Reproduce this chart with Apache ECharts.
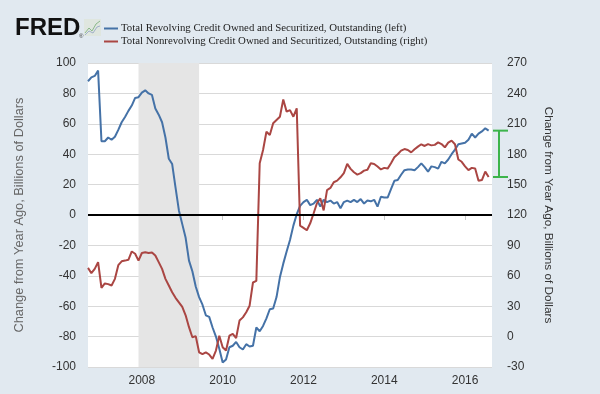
<!DOCTYPE html>
<html>
<head>
<meta charset="utf-8">
<script src="https://cdn.jsdelivr.net/npm/echarts@6/dist/echarts.min.js"></script>
<style>
html,body{margin:0;padding:0;background:#e1e9f0;}
#c{width:600px;height:394px;}
</style>
</head>
<body>
<div id="c"></div>
<script>
// ---- data (monthly, starting Sep 2006) ----
const startMonth = '2006-09';
const monthCount = 121; // Sep 2006 .. Sep 2016 (axis range)
const tickLabels = ['2008', '2010', '2012', '2014', '2016'];
const recession = ['2007-12', '2009-06'];

const seriesNames = [
  'Total Revolving Credit Owned and Securitized, Outstanding (left)',
  'Total Nonrevolving Credit Owned and Securitized, Outstanding (right)'
];

// Change from year ago, billions of dollars (left axis)
const revolving = [
  88, 90.5, 91.5, 95, 48.5, 48.5, 51, 49.5, 51.5, 56,
  61, 64.5, 68.5, 72, 77, 77.5, 80.5, 82, 80, 79,
  70, 66, 61, 51, 37, 33.5, 18, 3, -6, -15,
  -30, -37, -47, -54, -59, -66, -67, -74, -80, -88,
  -97, -95, -87, -86, -83.5, -87, -88.5, -85, -86.5, -86,
  -74, -76.5, -73, -68, -62, -61.5, -54, -41, -32, -24,
  -16.5, -7, 0.5, 6, 8.5, 10, 6.5, 7.5, 10, 5.5,
  10, 8.5, 9.5, 7.5, 8.5, 4.5, 8.5, 9.5, 8.5, 10,
  8.5, 10.5, 7.5, 9.5, 9, 10, 5.5, 12, 11.5, 11.5,
  17, 22.5, 23, 26.5, 29.5, 30, 30, 29.5, 31.5, 34,
  31.5, 28.5, 32, 31.5, 30.5, 35, 34, 36.5, 40, 43,
  46.5, 47, 47.5, 49.5, 53.5, 51, 53.5, 55, 57, 55.5
];

// Change from year ago, billions of dollars (right axis)
const nonrevolving = [
  67.8, 62.6, 66.8, 73.5, 48, 52.5, 51.8, 50.4, 57, 70.5,
  74.3, 75, 75.8, 84, 81.8, 75, 82.5, 83.3, 82.5, 83,
  80, 73.5, 66.8, 57, 50.4, 43.8, 38.3, 33.8, 29.3, 21,
  9.3, -0.6, 0.5, -15.5, -17.4, -15.5, -17.7, -21.9, -13.8, 0.9,
  -10.5, -13.8, 0.9, 2.6, -1.4, 15.8, 19, 24, 30.5, 53.4,
  55, 171, 184.2, 202.2, 198.9, 210.5, 213.8, 217, 234, 222,
  223.5, 217, 225.3, 109.5, 107.3, 105, 111.8, 121.5, 131.6, 136.5,
  124.5, 144.6, 146.7, 152.3, 153.9, 157.2, 161.3, 170.4, 165.5, 162.2,
  159.9, 161.3, 163.8, 164.6, 171, 170.4, 167.9, 165, 166.5, 165.8,
  171, 177, 180, 183.5, 185.1, 184.2, 181.8, 184.8, 187.5, 189.8,
  188.1, 190, 188.7, 189.2, 191.7, 190, 186.8, 191.4, 193.4, 189.8,
  174.8, 172.5, 168, 164.3, 166.5, 165.8, 153.8, 154.5, 162.8, 157.5
];

// ---- month categories ----
const months = [];
{
  let y = +startMonth.slice(0, 4), m = +startMonth.slice(5, 7);
  for (let i = 0; i < monthCount; i++) {
    months.push(y + '-' + String(m).padStart(2, '0'));
    m++; if (m > 12) { m = 1; y++; }
  }
}
const isTick = (v) => tickLabels.some(t => v === t + '-01');

const BLUE = '#4572a7', RED = '#aa4643', GREEN = '#3cb44b';
const SANS = '"Liberation Sans", Arial, sans-serif';
const chart = echarts.init(document.getElementById('c'), null, {renderer: 'canvas'});

const option = {
  backgroundColor: '#e1e9f0',
  animation: false,
  grid: {left: 88, right: 108, top: 63, bottom: 27, show: true, backgroundColor: '#ffffff', borderWidth: 0},
  legend: {
    left: 99, top: 18, orient: 'vertical', itemGap: 2,
    icon: 'rect', itemWidth: 14, itemHeight: 2,
    textStyle: {fontFamily: '"Liberation Serif", "Times New Roman", serif', fontSize: 10.8, color: '#222', fontWeight: 'normal', padding: [0, 0, 0, -2]},
    selectedMode: false,
    data: seriesNames
  },
  xAxis: {
    type: 'category', data: months, boundaryGap: false,
    axisLine: {show: true, lineStyle: {color: '#d9d9d9'}},
    axisTick: {show: true, interval: (i, v) => isTick(v), length: 5, lineStyle: {color: '#c8c8c8'}},
    axisLabel: {interval: (i, v) => isTick(v), formatter: v => v.slice(0, 4), color: '#333', fontSize: 12, fontFamily: SANS, margin: 8},
    splitLine: {show: false}
  },
  yAxis: [
    {
      type: 'value', min: -100, max: 100, interval: 20,
      name: 'Change from Year Ago, Billions of Dollars', nameLocation: 'middle', nameGap: 62,
      nameTextStyle: {color: '#666', fontSize: 12.8, fontFamily: SANS},
      axisLine: {show: false}, axisTick: {show: false},
      axisLabel: {color: '#333', fontSize: 12, fontFamily: SANS, margin: 12},
      splitLine: {lineStyle: {color: '#d9d9d9', width: 1}}
    },
    {
      type: 'value', min: -30, max: 270, interval: 30, position: 'right',
      name: 'Change from Year Ago, Billions of Dollars', nameLocation: 'middle', nameGap: 50, nameRotate: -90,
      nameTextStyle: {color: '#333', fontSize: 11.8, fontFamily: SANS},
      axisLine: {show: false}, axisTick: {show: false},
      axisLabel: {color: '#333', fontSize: 12, fontFamily: SANS, margin: 15},
      splitLine: {show: false}
    }
  ],
  series: [
    {
      name: seriesNames[0], type: 'line', yAxisIndex: 0, data: revolving,
      showSymbol: false, symbol: 'none', lineStyle: {color: BLUE, width: 2}, itemStyle: {color: BLUE},
      z: 3,
      markArea: {silent: true, itemStyle: {color: '#e5e5e5'}, data: [[{xAxis: recession[0]}, {xAxis: recession[1]}]]},
      markLine: {silent: true, symbol: 'none', label: {show: false}, lineStyle: {color: '#000', width: 2, type: 'solid'}, data: [{yAxis: 0}]}
    },
    {
      name: seriesNames[1], type: 'line', yAxisIndex: 1, data: nonrevolving,
      showSymbol: false, symbol: 'none', lineStyle: {color: RED, width: 2}, itemStyle: {color: RED},
      z: 4
    }
  ]
};
chart.setOption(option);

// ---- decorations: FRED logo + green bracket between the last values ----
const lastIdx = revolving.length - 1;
const gridRight = chart.convertToPixel({xAxisIndex: 0}, months[months.length - 1]);
const yTop = chart.convertToPixel({yAxisIndex: 0}, revolving[lastIdx]);
const yBot = chart.convertToPixel({yAxisIndex: 1}, nonrevolving[nonrevolving.length - 1]);
const bx0 = gridRight + 1, bx1 = gridRight + 16, bxm = gridRight + 7;

chart.setOption({
  graphic: [
    {type: 'text', left: 15, top: 16, style: {text: 'FRED', font: 'bold 24px ' + SANS, fill: '#111'}},
    {type: 'text', left: 79, top: 33, style: {text: '®', font: '6px ' + SANS, fill: '#333'}},
    {type: 'rect', shape: {x: 84, y: 19, width: 17, height: 17}, style: {fill: '#dfe6df'}},
    {type: 'polyline', shape: {points: [[85, 33], [89, 28], [92, 31], [96, 24], [100, 21]]}, style: {stroke: '#8ab88a', lineWidth: 1, fill: null}},
    {type: 'polyline', shape: {points: [[85, 35], [89, 31], [93, 33], [97, 27], [100, 26]]}, style: {stroke: '#9fb0c8', lineWidth: 1, fill: null}},
    {type: 'line', shape: {x1: bx0, y1: yTop, x2: bx1, y2: yTop}, style: {stroke: GREEN, lineWidth: 2}},
    {type: 'line', shape: {x1: bx0, y1: yBot, x2: bx1, y2: yBot}, style: {stroke: GREEN, lineWidth: 2}},
    {type: 'line', shape: {x1: bxm, y1: yTop, x2: bxm, y2: yBot}, style: {stroke: GREEN, lineWidth: 2}}
  ]
});
</script>
</body>
</html>
